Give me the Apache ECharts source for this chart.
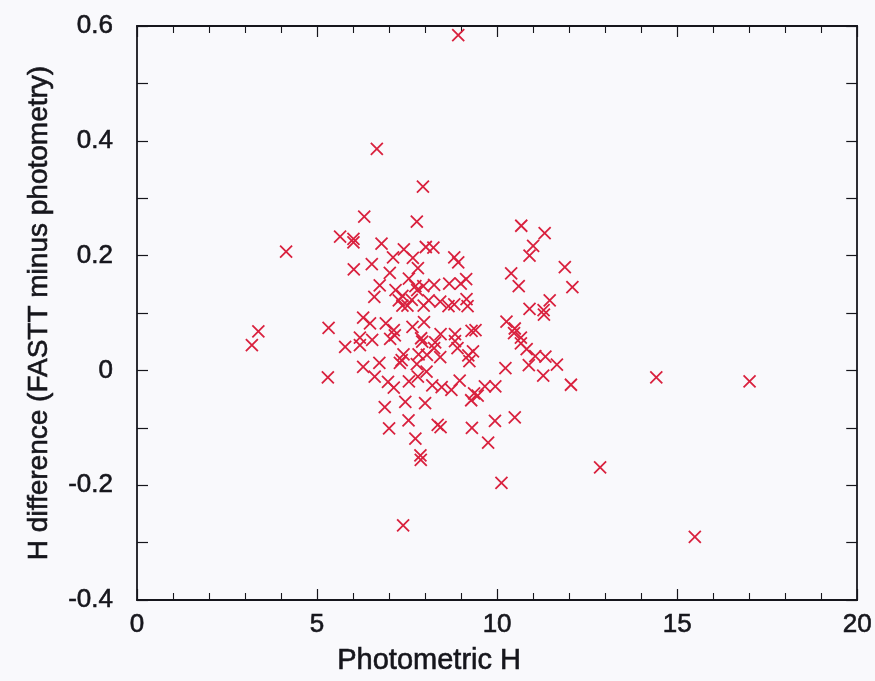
<!DOCTYPE html>
<html>
<head>
<meta charset="utf-8">
<script src="https://cdn.jsdelivr.net/npm/echarts@6/dist/echarts.min.js"></script>
<style>
  html, body { margin: 0; padding: 0; background: #f9f9fc; }
  #chart { width: 875px; height: 681px; }
</style>
</head>
<body>
<div id="chart"></div>
<script>
// Photometric H magnitude of each object
const photometricH = [
  8.92, 6.66, 7.94, 6.31, 7.77, 10.67, 11.32, 5.64, 6.01, 6.01,
  6.79, 8.02, 8.23, 11.00, 7.41, 4.14, 7.11, 7.66, 10.90, 8.81,
  8.92, 6.52, 6.02, 7.80, 11.88, 7.02, 10.39, 7.55, 9.14, 6.74,
  7.73, 7.95, 8.25, 8.67, 8.99, 10.60, 12.09, 7.18, 7.78, 6.59,
  7.37, 7.27, 7.63, 8.10, 8.42, 9.15, 11.46, 7.51, 7.96, 8.65,
  8.81, 9.18, 7.37, 10.90, 11.29, 11.30, 6.28, 6.47, 6.91, 7.97,
  10.26, 5.32, 7.65, 3.37, 7.13, 9.40, 10.49, 9.29, 8.43, 8.83,
  7.16, 10.47, 6.19, 6.53, 7.89, 10.66, 7.03, 8.28, 7.92, 8.83,
  3.19, 5.78, 6.19, 10.66, 8.25, 8.90, 10.82, 9.33, 7.40, 7.82,
  8.05, 8.42, 9.20, 11.06, 11.34, 7.35, 7.30, 6.73, 7.77, 6.28,
  9.23, 10.88, 11.66, 10.23, 8.04, 5.30, 6.60, 7.80, 11.28, 14.42,
  6.97, 7.55, 8.96, 8.20, 17.01, 12.05, 7.13, 8.46, 8.73, 9.66,
  9.95, 9.36, 9.46, 7.45, 8.00, 9.28, 6.88, 10.49, 7.54, 9.94,
  8.35, 8.43, 7.00, 9.30, 7.73, 9.75, 7.87, 7.88, 12.86, 10.12,
  7.39, 15.49
];

// H difference, FASTT minus photometry, for the same objects
const hDifference = [
  0.584, 0.386, 0.320, 0.268, 0.259, 0.252, 0.239, 0.233, 0.229, 0.223,
  0.221, 0.215, 0.214, 0.217, 0.211, 0.207, 0.197, 0.196, 0.200, 0.197,
  0.188, 0.185, 0.176, 0.178, 0.180, 0.170, 0.169, 0.160, 0.159, 0.148,
  0.147, 0.147, 0.149, 0.151, 0.151, 0.147, 0.145, 0.140, 0.140, 0.128,
  0.130, 0.122, 0.123, 0.122, 0.120, 0.124, 0.122, 0.113, 0.113, 0.112,
  0.115, 0.112, 0.113, 0.107, 0.105, 0.097, 0.092, 0.082, 0.082, 0.084,
  0.085, 0.074, 0.076, 0.068, 0.070, 0.070, 0.073, 0.069, 0.063, 0.063,
  0.061, 0.065, 0.057, 0.053, 0.056, 0.057, 0.055, 0.049, 0.050, 0.051,
  0.044, 0.041, 0.044, 0.047, 0.039, 0.039, 0.037, 0.033, 0.028, 0.028,
  0.027, 0.023, 0.026, 0.025, 0.024, 0.018, 0.013, 0.013, 0.011, 0.006,
  0.016, 0.009, 0.010, 0.004, -0.002, -0.012, -0.011, -0.011, -0.009, -0.012,
  -0.020, -0.019, -0.018, -0.026, -0.019, -0.025, -0.030, -0.029, -0.034, -0.028,
  -0.028, -0.040, -0.044, -0.055, -0.057, -0.052, -0.064, -0.082, -0.087, -0.088,
  -0.095, -0.099, -0.101, -0.100, -0.119, -0.126, -0.148, -0.156, -0.169, -0.196,
  -0.270, -0.290
];

// Axis tick labels
const xTickLabels = ['0', '5', '10', '15', '20'];
const yTickLabels = ['-0.4', '-0.2', '0', '0.2', '0.4', '0.6'];

const points = photometricH.map((h, i) => [h, hDifference[i]]);

const ink = '#16161c';
const font = '"Liberation Sans", Arial, Helvetica, sans-serif';

// Shared text style: slightly heavier strokes, like printed type
function textStyle(size) {
  return {
    fontFamily: font, fontSize: size, color: ink,
    textBorderColor: ink, textBorderWidth: 0.6
  };
}

function frameAxis(extra) {
  return Object.assign({
    type: 'value',
    axisLine: { show: true, onZero: false, lineStyle: { color: ink, width: 1.8 } },
    axisTick: { show: true, inside: true, length: 11, lineStyle: { color: ink, width: 1.2 } },
    splitLine: { show: false },
    minorSplitLine: { show: false }
  }, extra);
}

const xMinor = { show: true, splitNumber: 5, length: 7, lineStyle: { color: ink, width: 1.1 } };
const yMinor = { show: true, splitNumber: 2, length: 11, lineStyle: { color: ink, width: 1.2 } };

const chart = echarts.init(document.getElementById('chart'), null, { renderer: 'canvas' });

chart.setOption({
  backgroundColor: '#f9f9fc',
  animation: false,
  grid: { left: 137, right: 11, top: 26, bottom: 81, containLabel: false },
  xAxis: [
    frameAxis({
      position: 'bottom', min: 0, max: 20, interval: 5, minorTick: xMinor,
      name: 'Photometric H', nameLocation: 'middle', nameGap: 46,
      nameTextStyle: Object.assign(textStyle(29), { padding: [0, 136, 0, 0] }),
      axisLabel: Object.assign(textStyle(26), {
        show: true, margin: 12,
        formatter: v => xTickLabels[Math.round(v / 5)]
      })
    }),
    frameAxis({
      position: 'top', min: 0, max: 20, interval: 5, minorTick: xMinor,
      axisLabel: { show: false }
    })
  ],
  yAxis: [
    frameAxis({
      position: 'left', min: -0.4, max: 0.6, interval: 0.2, minorTick: yMinor,
      name: 'H difference (FASTT minus photometry)', nameLocation: 'middle', nameGap: 84,
      nameTextStyle: textStyle(28),
      axisLabel: Object.assign(textStyle(26), {
        show: true, margin: 24,
        formatter: v => yTickLabels[Math.round((v + 0.4) / 0.2)]
      })
    }),
    frameAxis({
      position: 'right', min: -0.4, max: 0.6, interval: 0.2, minorTick: yMinor,
      axisLabel: { show: false }
    })
  ],
  series: [{
    type: 'scatter',
    xAxisIndex: 0,
    yAxisIndex: 0,
    data: points,
    symbol: 'path://M0,0L10,10M10,0L0,10',
    symbolSize: 12,
    itemStyle: { color: 'rgba(0,0,0,0)', borderColor: '#d9213e', borderWidth: 1.8, opacity: 1 },
    emphasis: { disabled: true }
  }]
});
</script>
</body>
</html>
